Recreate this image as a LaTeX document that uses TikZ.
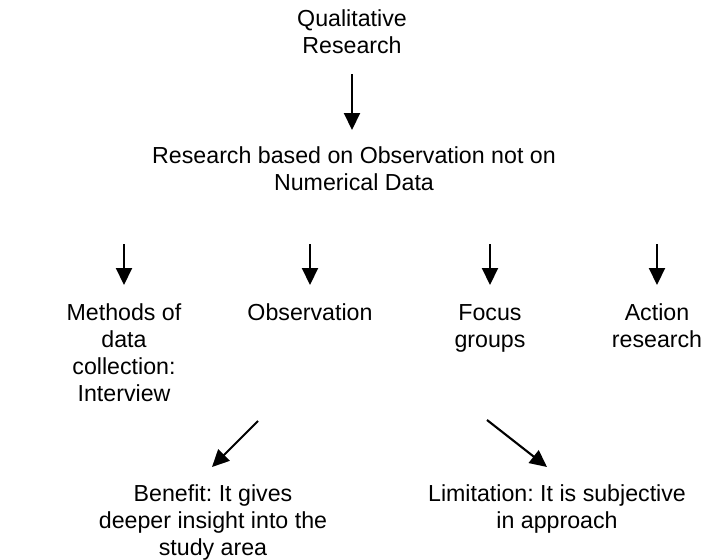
\documentclass[tikz,border=0pt]{standalone}
\usepackage{fontspec}
\setmainfont{Liberation Sans}
\usetikzlibrary{arrows.meta,positioning}
\frenchspacing

\begin{document}
\begin{tikzpicture}[x = 0.02cm, y = -0.02cm,
    txt/.style = {align=center, inner sep=0pt, anchor=north, font=\fontsize{13.2}{15.4}\selectfont},
    arr/.style = {-{Triangle[length=0.34cm, width=0.32cm]}, line width=1.2pt}]
    \useasboundingbox (0, 0) rectangle (710, 560);
    % TOP
    \node[txt] (qual) at (352, 9.5) {Qualitative\\Research};
    \node[txt] (rbo) at (354, 146.5) {Research based on Observation not on\\Numerical Data};
    \draw[arr, shorten <=0.4cm, shorten >=0.33cm] (qual.south) -- (qual.south |- rbo.north);
    % METHODS
    \node[txt] (meth) at (124, 303) {Methods of\\data\\collection:\\Interview};
    \node[txt] (obs) at (310, 303) {Observation};
    \node[txt] (focus) at (490, 303) {Focus\vphantom{h}\\groups};
    \node[txt] (act) at (657, 303) {Action\vphantom{h}\\research};
    \foreach \n in {meth, obs, focus, act}
        \draw[arr, shorten <=1.06cm, shorten >=0.36cm] (\n.north |- rbo.south) -- (\n.north);
    % BENEFIT AND LIMITATION
    \node[txt] (ben) at (213, 484) {Benefit: It gives\\deeper insight into the\\study area};
    \node[txt] (lim) at (557, 484) {Limitation: It is subjective\\in approach};
    \coordinate (bfrom) at (258, 421);
    \coordinate (bto) at (212, 467);
    \coordinate (lfrom) at (487, 420);
    \coordinate (lto) at (547, 467);
    \draw[arr] (bfrom) -- (bto);
    \draw[arr] (lfrom) -- (lto);
\end{tikzpicture}
\end{document}
